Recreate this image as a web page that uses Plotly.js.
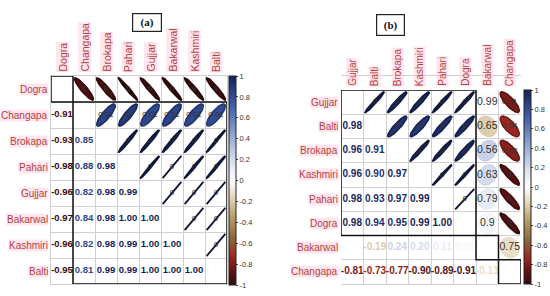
<!DOCTYPE html>
<html>
<head>
<meta charset="utf-8">
<script src="https://cdn.plot.ly/plotly-3.0.1.min.js"></script>
<style>html,body{margin:0;padding:0;background:#fff}#chart{width:550px;height:296px}</style>
</head>
<body>
<div id="chart"></div>
<script>
// panel (a)
var namesA = ['Dogra', 'Changapa', 'Brokapa', 'Pahari', 'Gujjar', 'Bakarwal', 'Kashmiri', 'Balti'];
var lowerA = [
  [],
  [-0.91],
  [-0.93, 0.85],
  [-0.98, 0.88, 0.98],
  [-0.96, 0.82, 0.98, 0.99],
  [-0.97, 0.84, 0.98, 1.00, 1.00],
  [-0.96, 0.82, 0.98, 0.99, 1.00, 1.00],
  [-0.95, 0.81, 0.99, 0.99, 1.00, 1.00, 1.00]
];
var pvalA = [
  [],
  ['0'],
  ['0', '0.01'],
  ['0', '0', '0'],
  ['0', '0.01', '0', '0'],
  ['0', '0.01', '0', '0', '0'],
  ['0', '0.01', '0', '0', '0', '0'],
  ['0', '0.01', '0', '0', '0', '0', '0']
];
var clustersA = [1, 7];

// panel (b)
var namesB = ['Gujjar', 'Balti', 'Brokapa', 'Kashmiri', 'Pahari', 'Dogra', 'Bakarwal', 'Changapa'];
var lowerB = [
  [],
  [0.98],
  [0.96, 0.91],
  [0.96, 0.90, 0.97],
  [0.98, 0.93, 0.97, 0.99],
  [0.98, 0.94, 0.95, 0.99, 1.00],
  [0.01, -0.19, 0.24, 0.20, 0.11, 0.05],
  [-0.81, -0.73, -0.77, -0.90, -0.89, -0.91, -0.13]
];
var pvalB = [
  [],
  ['0'],
  ['0', '0'],
  ['0', '0', '0'],
  ['0', '0', '0', '0'],
  ['0', '0', '0', '0', '0'],
  ['0.99', '0.65', '0.56', '0.63', '0.79', '0.9'],
  ['0.01', '0.04', '0.02', '0', '0', '0', '0.75']
];
var clustersB = [6, 1, 1];

var colorTicks = [-1, -0.8, -0.6, -0.4, -0.2, 0, 0.2, 0.4, 0.6, 0.8, 1];

var colorStops = [
  [-1, '#2b0b0b'], [-0.85, '#6b1414'], [-0.72, '#9c2a22'], [-0.55, '#8a6a3c'],
  [-0.35, '#b89c66'], [-0.15, '#e6dac0'], [0, '#ffffff'], [0.15, '#dfe6f2'],
  [0.3, '#b8c7e3'], [0.5, '#7d95c8'], [0.7, '#4463a8'], [0.85, '#2b4288'], [1, '#151f55']
];
var plotlyScale = colorStops.map(function (s) { return [(s[0] + 1) / 2, s[1]]; });

function hexRgb(h) {
  return [parseInt(h.substr(1, 2), 16), parseInt(h.substr(3, 2), 16), parseInt(h.substr(5, 2), 16)];
}
function colorArr(v) {
  for (var i = 1; i < colorStops.length; i++) {
    if (v <= colorStops[i][0]) {
      var a = colorStops[i - 1], b = colorStops[i];
      var t = (v - a[0]) / (b[0] - a[0]);
      var ca = hexRgb(a[1]), cb = hexRgb(b[1]);
      return [0, 1, 2].map(function (k) { return Math.round(ca[k] + (cb[k] - ca[k]) * t); });
    }
  }
  return hexRgb(colorStops[colorStops.length - 1][1]);
}
function colorFor(v, dark) {
  var c = colorArr(v);
  var f = 1 - (dark || 0);
  return 'rgb(' + c.map(function (x) { return Math.round(x * f); }).join(',') + ')';
}

var traces = [];
var annotations = [];
var shapes = [];
var labelColor = '#b8403a';
var labelBg = 'rgba(255,200,222,0.45)';
var font = 'Liberation Sans, Arial, sans-serif';

function buildPanel(names, lower, pvals, clusters, xa, ya, numSize, colSize) {
  var n = names.length;
  var tx = [], ty = [], tt = [], tc = [];
  var px = [], py = [], pt = [], ps = [];
  for (var i = 0; i < n; i++) {
    for (var j = 0; j < i; j++) {
      var r = lower[i][j];
      tx.push(j); ty.push(i); tt.push(r.toFixed(2)); tc.push(colorFor(r));
      // mirrored ellipse in the upper triangle (row j, col i)
      var ex = [], ey = [];
      var h = Math.acos(Math.max(-1, Math.min(1, r))) / 2;
      for (var s = 0; s <= 72; s++) {
        var k = s / 72 * 2 * Math.PI;
        ex.push(i + 0.85 * Math.cos(k + h) / 2);
        ey.push(j - 0.85 * Math.cos(k - h) / 2);
      }
      traces.push({
        x: ex, y: ey, xaxis: xa, yaxis: ya, mode: 'lines', fill: 'toself',
        fillcolor: colorFor(r), line: {color: colorFor(r, 0.35 * Math.abs(r)), width: 0.6 + 1.2 * Math.abs(r)},
        hoverinfo: 'skip', showlegend: false
      });
      px.push(i); py.push(j); pt.push(pvals[i][j]);
      ps.push(parseFloat(pvals[i][j]) > 0.05 ? 10.5 : 8);
    }
  }
  traces.push({
    x: tx, y: ty, text: tt, xaxis: xa, yaxis: ya, mode: 'text',
    textfont: {family: font, size: numSize, color: tc, weight: 'bold'},
    hoverinfo: 'skip', showlegend: false
  });
  traces.push({
    x: px, y: py, text: pt, xaxis: xa, yaxis: ya, mode: 'text',
    textfont: {family: font, size: ps, color: '#333'},
    hoverinfo: 'skip', showlegend: false
  });
  names.forEach(function (nm, i) {
    annotations.push({
      xref: xa, yref: ya, x: -0.5, y: i, xanchor: 'right', xshift: -2,
      text: nm, showarrow: false, bgcolor: labelBg, borderpad: 0,
      font: {family: font, size: 10, color: labelColor}
    });
    annotations.push({
      xref: xa, yref: ya, x: i, y: -0.5, yanchor: 'bottom', yshift: 3,
      text: nm, textangle: -90, showarrow: false, bgcolor: labelBg, borderpad: 0,
      font: {family: font, size: colSize, color: labelColor}
    });
  });
  var start = 0;
  clusters.forEach(function (sz) {
    shapes.push({
      type: 'rect', xref: xa, yref: ya,
      x0: start - 0.5, x1: start + sz - 0.5, y0: start - 0.5, y1: start + sz - 0.5,
      line: {color: '#111', width: 1.5}
    });
    start += sz;
  });
}

buildPanel(namesA, lowerA, pvalA, clustersA, 'x', 'y', 9.5, 10.5);
buildPanel(namesB, lowerB, pvalB, clustersB, 'x2', 'y2', 10, 10);

function colorbarTrace(xa, ya, cx, cy, clen) {
  return {
    x: [0], y: [0], xaxis: xa, yaxis: ya, mode: 'markers', hoverinfo: 'skip', showlegend: false,
    marker: {
      size: 1, opacity: 0, color: [0], colorscale: plotlyScale, cmin: -1, cmax: 1, showscale: true,
      colorbar: {
        x: cx, xanchor: 'left', y: cy, yanchor: 'middle', len: clen, lenmode: 'fraction',
        thickness: 7, thicknessmode: 'pixels', outlinewidth: 1, outlinecolor: '#222',
        xpad: 0, ypad: 0, ticks: 'outside', ticklen: 2, tickcolor: '#444',
        tickvals: colorTicks, ticktext: colorTicks.map(String),
        tickfont: {family: font, size: 7.5, color: '#333'}
      }
    }
  };
}
traces.push(colorbarTrace('x', 'y', 229 / 550, 1 - 180.5 / 296, 209 / 296));
traces.push(colorbarTrace('x2', 'y2', 524 / 550, 1 - 187 / 296, 194 / 296));

annotations.push({
  xref: 'paper', yref: 'paper', x: 132 / 550, y: 1 - 13 / 296, text: '<b>(a)</b>', showarrow: false,
  font: {family: 'Liberation Serif, serif', size: 11, color: '#111'},
  bordercolor: '#222', borderwidth: 1.2, borderpad: 1, width: 26, height: 15
});
annotations.push({
  xref: 'paper', yref: 'paper', x: 404.5 / 550, y: 1 - 14 / 296, text: '<b>(b)</b>', showarrow: false,
  font: {family: 'Liberation Serif, serif', size: 11, color: '#111'},
  bordercolor: '#222', borderwidth: 1.2, borderpad: 1, width: 25, height: 18
});

var gridTicks = [-0.5, 0.5, 1.5, 2.5, 3.5, 4.5, 5.5, 6.5, 7.5];
function ax(domain, range) {
  return {
    domain: domain, range: range, tickmode: 'array', tickvals: gridTicks, showticklabels: false,
    ticks: '', showgrid: true, gridcolor: '#d0d0d0', gridwidth: 1, zeroline: false,
    showline: true, mirror: true, linecolor: '#d0d0d0', linewidth: 1, fixedrange: true
  };
}

var layout = {
  width: 550, height: 296,
  margin: {l: 0, r: 0, t: 0, b: 0},
  paper_bgcolor: '#fff', plot_bgcolor: '#fff',
  showlegend: false,
  xaxis: ax([51 / 550, 227 / 550], [-0.5, 7.5]),
  yaxis: ax([1 - 284 / 296, 1 - 76 / 296], [7.5, -0.5]),
  xaxis2: ax([341 / 550, 521 / 550], [-0.5, 7.5]),
  yaxis2: ax([1 - 284 / 296, 1 - 90 / 296], [7.5, -0.5]),
  annotations: annotations,
  shapes: shapes
};

Plotly.newPlot('chart', traces, layout, {displayModeBar: false, staticPlot: true});
</script>
</body>
</html>
